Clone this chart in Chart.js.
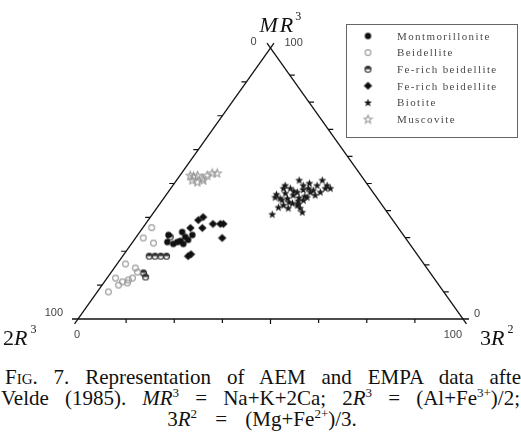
<!DOCTYPE html>
<html>
<head>
<meta charset="utf-8">
<script src="https://cdn.jsdelivr.net/npm/chart.js@4/dist/chart.umd.min.js"></script>
<style>
body { margin: 0; background: #fff; width: 521px; height: 440px; overflow: hidden; position: relative; }
#wrap { position: absolute; left: 0; top: 0; width: 521px; height: 360px; }
.cap { position: absolute; font-family: "Liberation Serif", "Times New Roman", serif; font-size: 21px; line-height: 21px; color: #111; white-space: nowrap; }
.just { text-align: justify; text-align-last: justify; white-space: normal; }
.cap sup { font-size: 13px; vertical-align: 8px; line-height: 0; }
.sc { font-variant: small-caps; }
</style>
</head>
<body>
<div id="wrap"><canvas id="tern" width="521" height="360"></canvas></div>
<div class="cap just" style="left:5px; top:367px; width:523px;"><span class="sc">Fig</span>. 7. Representation of AEM and EMPA data after</div>
<div class="cap just" style="left:1px; top:388px; width:519px;">Velde (1985). <i>MR</i><sup>3</sup> = Na+K+2Ca; 2<i>R</i><sup>3</sup> = (Al+Fe<sup>3+</sup>)/2;</div>
<div class="cap" style="left:0; top:409px; width:524px; text-align:center; word-spacing:13px;">3<i>R</i><sup>2</sup> = (Mg+Fe<sup>2+</sup>)/3.</div>
<script>
// values in percent: MR3 and 3R2 (2R3 is the rest to 100)
const seriesNames = ['Montmorillonite', 'Beidellite', 'Fe-rich beidellite', 'Fe-rich beidellite', 'Biotite', 'Muscovite'];

const montMR3 = [32.1, 30.3, 28.8, 28.4, 29.2, 31.0, 27.7, 27.7, 28.4, 31.0];
const montR2 = [11.0, 12.7, 12.2, 11.6, 14.0, 14.2, 13.5, 10.9, 9.0, 8.0];

const beidMR3 = [33.7, 29.9, 28.0, 20.3, 18.8, 15.1, 14.4, 13.7, 12.5, 13.3, 15.1, 10.0, 17.3];
const beidR2 = [2.3, 2.0, 5.6, 2.2, 5.5, 2.2, 5.9, 4.7, 4.3, 6.2, 6.6, 2.9, 6.8];

const halfMR3 = [23.2, 23.2, 23.2, 23.2, 30.3, 17.0, 15.5];
const halfR2 = [6.9, 8.4, 9.9, 11.4, 8.8, 8.5, 9.8];

const diamMR3 = [36.5, 37.6, 33.6, 33.6, 35.1, 35.1, 35.1, 29.9, 23.2, 23.9];
const diamR2 = [13.0, 13.7, 12.4, 15.5, 17.5, 19.4, 20.2, 22.5, 17.0, 17.4];

const bioMR3 = [38.7, 48.3, 49.4, 45.0, 46.1, 44.6, 44.6, 42.8, 42.1, 41.0, 39.5, 45.8, 46.9, 51.3, 49.4, 48.3,
    47.6, 49.4, 51.3, 49.4, 48.3, 45.8, 45.0, 48.3, 42.1, 41.3, 41.0, 43.9, 46.9, 46.9, 48.3,
    44.0, 43.2, 46.5, 47.3, 44.8, 43.6, 42.5, 45.4, 47.8, 50.2];
const bioR2 = [31.1, 29.2, 29.1, 28.7, 28.5, 30.2, 32.1, 34.3, 35.9, 37.2, 38.5, 33.0, 33.5, 31.8, 33.8, 35.7,
    37.3, 37.4, 37.8, 40.0, 41.4, 38.7, 37.0, 31.0, 32.3, 31.4, 34.1, 36.6, 36.9, 39.5, 40.1,
    31.0, 33.2, 30.6, 32.4, 35.0, 35.4, 36.0, 36.2, 34.6, 35.0];

const muscMR3 = [53.1, 52.8, 53.1, 52.0, 53.1, 53.9, 53.9, 51.3, 50.6, 51.3];
const muscR2 = [2.6, 3.6, 4.5, 6.3, 7.0, 7.9, 9.2, 4.0, 5.7, 6.9];

const baseTicks = [12.5, 25, 37.5, 50, 62.5, 75, 87.5];
const leftTicks = [12.5, 25, 37.5, 50, 62.5, 75, 87.5];
const rightTicks = [10, 20, 30, 40, 50, 60, 70, 80, 90];
const endLabels = ['0', '100'];

// ternary -> cartesian data space (x: 0..100, y: 0..100)
function toXY(mr3, r2) {
    return mr3.map((a, i) => ({ x: r2[i] + a / 2, y: a }));
}

function makeSymbol(kind, color) {
    const c = document.createElement('canvas');
    c.width = 11; c.height = 11;
    const g = c.getContext('2d');
    const m = 5.5;
    g.fillStyle = color; g.strokeStyle = color; g.lineWidth = 1.1;
    if (kind == 'dot') {
        g.beginPath(); g.arc(m, m, 3.2, 0, Math.PI * 2); g.fill();
    } else if (kind == 'ring') {
        g.beginPath(); g.arc(m, m, 2.9, 0, Math.PI * 2); g.stroke();
    } else if (kind == 'half') {
        g.beginPath(); g.arc(m, m, 3, Math.PI, 0); g.fill();
        g.beginPath(); g.arc(m, m, 3, 0, Math.PI * 2); g.stroke();
    } else if (kind == 'diamond') {
        g.beginPath(); g.moveTo(m, m - 4); g.lineTo(m + 4.2, m); g.lineTo(m, m + 4); g.lineTo(m - 4.2, m); g.closePath(); g.fill();
    } else {
        g.beginPath();
        for (let k = 0; k < 10; k++) {
            const r = k % 2 ? 1.8 : 4.2;
            const t = -Math.PI / 2 + k * Math.PI / 5;
            g.lineTo(m + r * Math.cos(t), m + 0.5 + r * Math.sin(t));
        }
        g.closePath();
        if (kind == 'star') g.fill(); else g.stroke();
    }
    return c;
}

const symbols = [
    makeSymbol('dot', '#111'),
    makeSymbol('ring', '#9a9a9a'),
    makeSymbol('half', '#333'),
    makeSymbol('diamond', '#111'),
    makeSymbol('star', '#1a1a1a'),
    makeSymbol('openstar', '#999')
];
const seriesData = [
    toXY(montMR3, montR2), toXY(beidMR3, beidR2), toXY(halfMR3, halfR2),
    toXY(diamMR3, diamR2), toXY(bioMR3, bioR2), toXY(muscMR3, muscR2)
];

const SERIF = '"Liberation Serif", "Times New Roman", serif';

function drawParts(ctx, parts, x, y) {
    parts.forEach(p => {
        ctx.font = p.font;
        ctx.fillText(p.t, x, y + (p.dy || 0));
        x += ctx.measureText(p.t).width + (p.gap || 0);
    });
}

const ternaryFrame = {
    id: 'ternaryFrame',
    beforeDatasetsDraw(chart) {
        const { ctx, scales: { x, y } } = chart;
        const P = (mr3, r2) => ({ x: x.getPixelForValue(r2 + mr3 / 2), y: y.getPixelForValue(mr3) });
        const top = P(100, 0), left = P(0, 0), right = P(0, 100);
        ctx.save();
        ctx.strokeStyle = '#111';
        ctx.lineWidth = 1.3;
        const edge = (a, b, ext) => {
            const dx = b.x - a.x, dy = b.y - a.y, len = Math.hypot(dx, dy);
            const ux = dx / len * ext, uy = dy / len * ext;
            ctx.beginPath();
            ctx.moveTo(a.x - ux, a.y - uy);
            ctx.lineTo(b.x + ux, b.y + uy);
            ctx.stroke();
        };
        edge(left, top, 6);
        edge(top, right, 6);
        edge(left, right, 6);

        ctx.lineWidth = 1.2;
        ctx.beginPath();
        baseTicks.forEach(t => {
            const p = P(0, t);
            ctx.moveTo(p.x, p.y); ctx.lineTo(p.x, p.y + (t == 50 ? 5 : 4));
        });
        leftTicks.forEach(t => {
            const p = P(t, 0);
            ctx.moveTo(p.x, p.y); ctx.lineTo(p.x - 5, p.y);
        });
        rightTicks.forEach(t => {
            const p = P(t, 100 - t);
            ctx.moveTo(p.x, p.y); ctx.lineTo(p.x + 5, p.y);
        });
        ctx.stroke();

        // end labels
        ctx.fillStyle = '#444';
        ctx.font = '11px "Liberation Sans", Arial, sans-serif';
        ctx.textBaseline = 'middle';
        ctx.textAlign = 'center';
        ctx.fillText(endLabels[0], top.x - 17, top.y - 6);
        ctx.fillText(endLabels[0], left.x - 1, left.y + 16);
        ctx.textAlign = 'left';
        ctx.fillText(endLabels[1], top.x + 14, top.y - 5);
        ctx.fillText(endLabels[0], right.x + 11, right.y - 5);
        ctx.textAlign = 'right';
        ctx.fillText(endLabels[1], left.x - 15, left.y - 6);
        ctx.fillText(endLabels[1], right.x - 1, right.y + 16);

        // apex titles
        ctx.fillStyle = '#111';
        ctx.textAlign = 'left';
        ctx.textBaseline = 'alphabetic';
        const it = 'italic 22px ' + SERIF;
        const rm = '22px ' + SERIF;
        const sup = '12px ' + SERIF;
        drawParts(ctx, [{ t: 'M', font: it, gap: 2 }, { t: 'R', font: it, gap: 2 }, { t: '3', font: sup, dy: -12 }], top.x - 11, top.y - 16);
        drawParts(ctx, [{ t: '2', font: rm }, { t: 'R', font: it, gap: 3 }, { t: '3', font: sup, dy: -12 }], left.x - 75, left.y + 26);
        drawParts(ctx, [{ t: '3', font: rm }, { t: 'R', font: it, gap: 3 }, { t: '2', font: sup, dy: -12 }], right.x + 17, right.y + 26);
        ctx.restore();
    },
    afterDraw(chart) {
        const ctx = chart.ctx;
        const bx = 346, by = 24, bw = 171, bh = 113;
        ctx.save();
        ctx.strokeStyle = '#666';
        ctx.lineWidth = 1;
        ctx.strokeRect(bx + 0.5, by + 0.5, bw, bh);
        ctx.font = '11px ' + SERIF;
        if ('letterSpacing' in ctx) ctx.letterSpacing = '1.4px';
        ctx.fillStyle = '#4a4a4a';
        ctx.textBaseline = 'middle';
        seriesNames.forEach((name, i) => {
            const ry = by + 12 + i * 16.6;
            ctx.drawImage(symbols[i], bx + 22 - 5.5, ry - 5.5);
            ctx.fillText(name, bx + 51, ry + 1);
        });
        ctx.restore();
    }
};

function drawChart() {
    new Chart(document.getElementById('tern'), {
        type: 'scatter',
        data: {
            datasets: seriesNames.map((name, i) => ({
                label: name,
                data: seriesData[i],
                pointStyle: symbols[i],
                pointRadius: 4,
                pointHoverRadius: 4
            }))
        },
        options: {
            responsive: false,
            animation: false,
            layout: { padding: { left: 78, right: 58, top: 48, bottom: 41 } },
            scales: {
                x: { display: false, min: 0, max: 100 },
                y: { display: false, min: 0, max: 100 }
            },
            plugins: { legend: { display: false }, tooltip: { enabled: false } }
        },
        plugins: [ternaryFrame]
    });
}

Promise.all([
    document.fonts.load('11px "Liberation Serif"'),
    document.fonts.load('italic 22px "Liberation Serif"'),
    document.fonts.load('11px "Liberation Sans"')
]).then(drawChart, drawChart);
</script>
</body>
</html>
